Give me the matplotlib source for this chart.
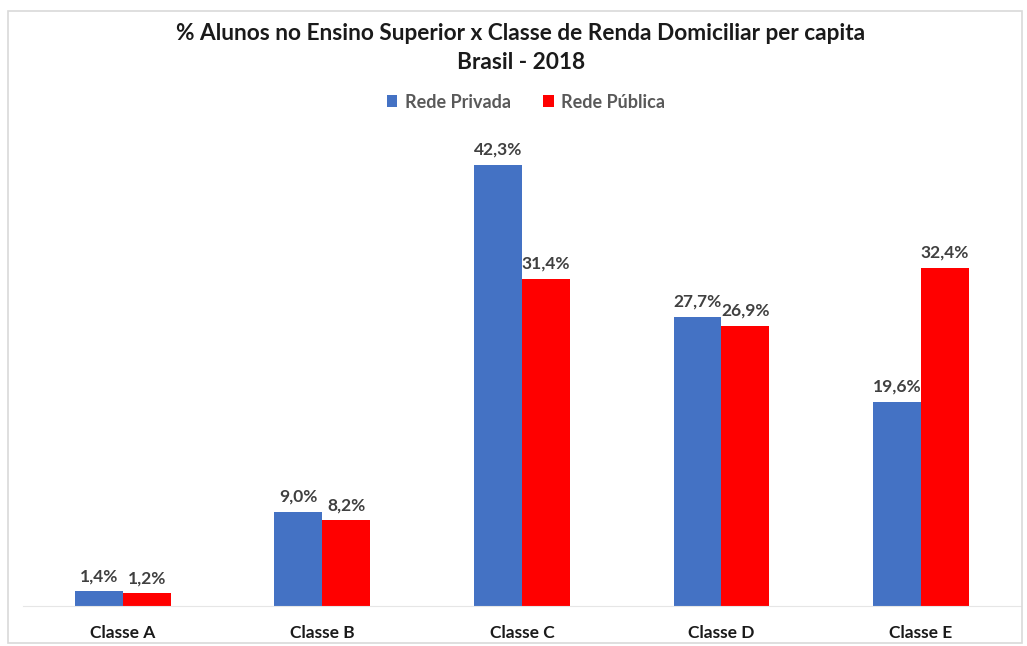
import matplotlib
matplotlib.use("Agg")
import matplotlib.pyplot as plt
import numpy as np
from matplotlib.patches import Rectangle

plt.rcParams['font.family'] = ['Lato', 'DejaVu Sans']

classes = ['Classe A', 'Classe B', 'Classe C', 'Classe D', 'Classe E']
privada = [1.4, 9.0, 42.3, 27.7, 19.6]
publica = [1.2, 8.2, 31.4, 26.9, 32.4]

azul = '#4472C4'
vermelho = '#FF0000'
cinza = '#404040'

fig = plt.figure(figsize=(10.27, 6.46), dpi=100)
ax = fig.add_axes([0.0224, 0.062, 0.9716, 0.726])

x = np.arange(len(classes))
w = 0.24
b1 = ax.bar(x - w / 2, privada, w, color=azul, label='Rede Privada')
b2 = ax.bar(x + w / 2, publica, w, color=vermelho, label='Rede Pública')

def rotulos(barras, vals):
    for r, v in zip(barras, vals):
        ax.text(r.get_x() + r.get_width() / 2, v + 0.7, f'{v:.1f}%'.replace('.', ','),
                ha='center', va='bottom', fontsize=12.5, fontweight='bold', color=cinza)

rotulos(b1, privada)
rotulos(b2, publica)

ax.set_xlim(-0.5, 4.5)
ax.set_ylim(0, 45)
ax.set_yticks([])
ax.set_xticks(x)
ax.set_xticklabels(classes, fontsize=12.5, fontweight='bold', color='#1a1a1a')
ax.tick_params(axis='x', length=0, pad=14)
for s in ['top', 'right', 'left']:
    ax.spines[s].set_visible(False)
ax.spines['bottom'].set_color('#e6e6e6')

fig.text(0.507, 0.948, '% Alunos no Ensino Superior x Classe de Renda Domiciliar per capita',
         ha='center', va='center', fontsize=16.3, fontweight='bold', color='#1a1a1a')
fig.text(0.507, 0.903, 'Brasil - 2018', ha='center', va='center',
         fontsize=16.3, fontweight='bold', color='#1a1a1a')

leg = fig.legend(loc='center', bbox_to_anchor=(0.512, 0.842), ncol=2, frameon=False,
                 fontsize=13, handlelength=0.6, handleheight=0.6, columnspacing=1.8,
                 handletextpad=0.4)
for t in leg.get_texts():
    t.set_color('#595959')
    t.set_fontweight('bold')

fig.patches.append(Rectangle((8 / 1027, 3 / 646), 1014 / 1027, 632 / 646,
                             transform=fig.transFigure, fill=False,
                             edgecolor='#d9d9d9', linewidth=1.2))

fig.savefig('out.png', dpi=100)
